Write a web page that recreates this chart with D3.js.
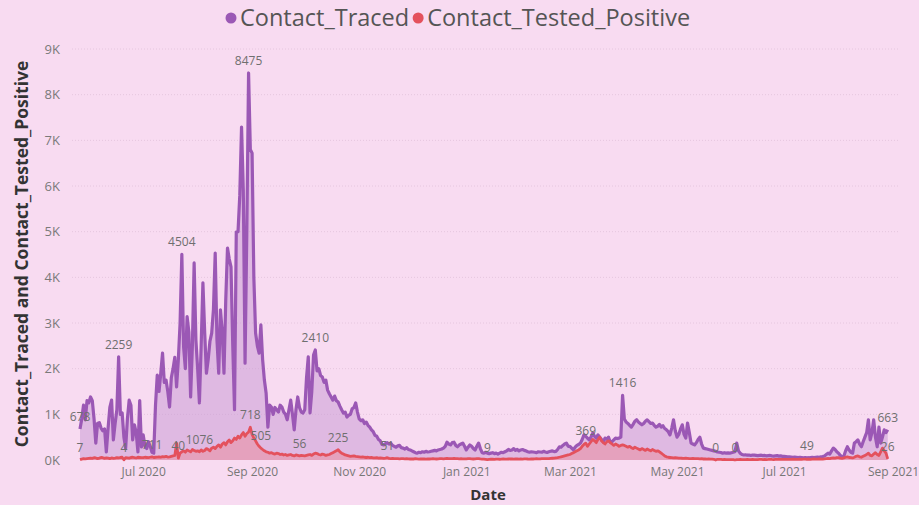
<!DOCTYPE html>
<html>
<head>
<meta charset="utf-8">
<script src="https://cdn.jsdelivr.net/npm/d3@7"></script>
<style>
  body { margin: 0; background: #f8dbf1; }
  svg { display: block; font-family: "Open Sans", "Noto Sans", sans-serif; }
</style>
</head>
<body>
<svg id="chart" width="919" height="505"></svg>
<script>
// daily values, 26 May 2020 .. 29 Aug 2021, one array per month
var firstDay = "2020-05-26";

var tracedMay20 = [678, 900, 1200, 880, 1300, 1250];
var tracedJun20 = [1380, 1300, 900, 370, 800, 820, 700, 640, 680, 175, 700, 1150, 1310, 440, 800, 1100, 2259, 1000, 1030, 500, 260, 900, 1310, 1200, 440, 770, 600, 175, 1300, 285];
var tracedJul20 = [550, 300, 250, 400, 300, 170, 150, 1200, 1860, 1500, 1900, 2340, 1700, 1750, 1500, 1160, 1800, 2000, 2250, 1600, 2200, 3000, 4504, 2475, 2000, 3140, 2800, 1380, 2500, 4315, 2630];
var tracedAug20 = [2000, 1250, 2500, 3880, 2800, 1900, 2200, 2600, 2780, 3300, 4530, 2630, 1900, 3290, 2800, 1900, 3500, 4640, 4400, 4230, 2500, 1100, 4990, 5000, 5800, 7290, 5900, 2120, 5000, 8475, 6800];
var tracedSep20 = [6720, 4000, 2780, 2500, 2340, 2960, 2200, 1750, 1460, 720, 1200, 1160, 1000, 1150, 1100, 1050, 1200, 1160, 1050, 1000, 880, 1100, 1310, 1000, 660, 1100, 1380, 1150, 1050, 1030];
var tracedOct20 = [1100, 1800, 2260, 1030, 1500, 2300, 2410, 1950, 2000, 1850, 1820, 1700, 1750, 1530, 1450, 1380, 1310, 1400, 1300, 1270, 1180, 1100, 1030, 1050, 940, 980, 1000, 1120, 1150, 1250, 1050];
var tracedNov20 = [900, 860, 880, 800, 830, 760, 720, 660, 620, 540, 520, 450, 420, 340, 330, 360, 380, 350, 370, 320, 300, 280, 310, 320, 270, 260, 240, 270, 230, 220];
var tracedDec20 = [200, 180, 160, 150, 170, 160, 180, 170, 190, 175, 180, 190, 200, 210, 200, 220, 230, 240, 260, 300, 390, 350, 330, 380, 390, 320, 290, 330, 350, 370, 300];
var tracedJan21 = [220, 280, 330, 300, 250, 220, 300, 370, 250, 160, 150, 170, 150, 140, 150, 160, 140, 150, 130, 150, 170, 160, 180, 200, 230, 210, 220, 250, 210, 230, 200];
var tracedFeb21 = [220, 230, 210, 200, 180, 170, 180, 175, 170, 160, 180, 175, 170, 190, 175, 165, 180, 190, 200, 185, 190, 230, 290, 280, 320, 350, 370, 300];
var tracedMar21 = [300, 260, 220, 280, 320, 340, 370, 450, 550, 520, 480, 440, 500, 590, 520, 480, 550, 500, 450, 390, 480, 460, 500, 390, 400, 440, 480, 470, 480, 500, 1416];
var tracedApr21 = [900, 830, 800, 760, 720, 780, 850, 880, 830, 800, 770, 800, 850, 880, 840, 800, 810, 760, 720, 740, 780, 720, 750, 690, 660, 620, 550, 700, 880, 640];
var tracedMay21 = [500, 560, 680, 770, 560, 480, 810, 600, 370, 350, 330, 380, 450, 500, 350, 260, 250, 240, 230, 220, 210, 200, 190, 175, 170, 165, 150, 160, 150, 155, 150];
var tracedJun21 = [160, 170, 180, 370, 200, 150, 120, 110, 115, 105, 110, 100, 110, 105, 100, 95, 100, 105, 95, 100, 90, 95, 100, 90, 85, 90, 95, 85, 90, 80];
var tracedJul21 = [80, 75, 70, 70, 65, 60, 65, 60, 55, 60, 55, 50, 55, 49, 50, 55, 60, 55, 60, 65, 60, 70, 75, 90, 120, 150, 130, 200, 260, 230, 180];
var tracedAug21 = [150, 100, 65, 80, 200, 290, 220, 170, 150, 370, 400, 440, 350, 290, 400, 500, 600, 880, 440, 600, 880, 500, 290, 720, 370, 500, 660, 600, 663];

var posMay20 = [7, 20, 30, 25, 30, 35];
var posJun20 = [40, 35, 50, 45, 30, 40, 55, 50, 35, 45, 40, 30, 45, 35, 40, 50, 45, 55, 60, 4, 50, 45, 40, 55, 60, 50, 45, 60, 55, 50];
var posJul20 = [50, 60, 55, 50, 60, 70, 55, 60, 65, 70, 60, 75, 70, 80, 65, 70, 80, 90, 100, 370, 40, 150, 180, 200, 170, 220, 200, 180, 230, 210, 190];
var posAug20 = [200, 180, 220, 190, 210, 250, 230, 200, 260, 280, 250, 300, 330, 280, 350, 380, 330, 400, 440, 380, 420, 480, 450, 520, 480, 550, 600, 520, 580, 610, 718];
var posSep20 = [560, 480, 420, 350, 300, 260, 230, 200, 180, 170, 150, 160, 140, 130, 150, 140, 120, 130, 110, 120, 100, 110, 120, 100, 90, 110, 100, 90, 100, 95];
var posOct20 = [90, 100, 110, 120, 100, 130, 150, 140, 120, 110, 130, 120, 100, 110, 120, 140, 160, 180, 200, 225, 180, 150, 130, 110, 100, 90, 80, 85, 90, 80, 75];
var posNov20 = [70, 65, 70, 60, 55, 60, 50, 55, 48, 45, 50, 40, 45, 40, 35, 40, 51, 35, 30, 35, 30, 28, 30, 25, 30, 28, 25, 30, 25, 22];
var posDec20 = [25, 22, 28, 24, 20, 25, 22, 26, 20, 24, 22, 25, 28, 24, 22, 26, 30, 28, 25, 30, 35, 30, 28, 32, 35, 30, 28, 25, 30, 26, 24];
var posJan21 = [25, 28, 30, 26, 22, 25, 28, 30, 24, 20, 18, 15, 9, 14, 16, 18, 15, 20, 18, 16, 20, 22, 18, 20, 24, 22, 25, 20, 22, 24, 20];
var posFeb21 = [22, 20, 24, 25, 22, 20, 24, 22, 25, 28, 26, 24, 28, 30, 28, 32, 30, 35, 38, 40, 45, 50, 60, 70, 80, 90, 100, 110];
var posMar21 = [120, 140, 160, 180, 200, 220, 250, 300, 340, 369, 300, 350, 400, 450, 420, 380, 450, 500, 420, 380, 350, 400, 420, 380, 350, 320, 350, 330, 300, 320, 330];
var posApr21 = [320, 300, 280, 300, 270, 250, 280, 260, 240, 220, 250, 230, 210, 240, 220, 200, 230, 210, 190, 200, 180, 150, 120, 90, 70, 60, 55, 50, 45, 50];
var posMay21 = [45, 40, 42, 38, 35, 40, 36, 30, 32, 35, 30, 28, 30, 25, 28, 22, 25, 20, 22, 18, 20, 15, 0, 15, 12, 15, 10, 12, 10, 8, 10];
var posJun21 = [10, 8, 0, 8, 10, 12, 10, 8, 10, 12, 8, 10, 12, 10, 8, 10, 12, 14, 10, 12, 10, 12, 15, 12, 10, 14, 12, 15, 12, 14];
var posJul21 = [15, 12, 14, 12, 15, 18, 15, 12, 14, 16, 15, 18, 20, 16, 18, 15, 20, 22, 18, 20, 25, 22, 20, 25, 30, 35, 30, 40, 45, 40, 50];
var posAug21 = [50, 40, 35, 45, 60, 70, 55, 50, 45, 60, 80, 90, 70, 60, 80, 100, 120, 150, 100, 90, 130, 160, 120, 100, 180, 260, 200, 150, 26];

var yTicks = [0, 1000, 2000, 3000, 4000, 5000, 6000, 7000, 8000, 9000];
var xTickDates = ["2020-07-01", "2020-09-01", "2020-11-01", "2021-01-01", "2021-03-01", "2021-05-01", "2021-07-01", "2021-09-01"];

// data labels shown on the chart
var labelDates  = ["2020-05-26", "2020-05-26", "2020-06-17", "2020-06-20", "2020-07-06", "2020-07-21", "2020-07-23", "2020-08-02", "2020-08-30", "2020-08-31", "2020-09-06", "2020-09-28", "2020-10-07", "2020-10-20", "2020-11-17", "2021-01-13", "2021-03-10", "2021-03-31", "2021-05-23", "2021-06-03", "2021-07-14", "2021-08-29", "2021-08-29"];
var labelSeries = ["t", "p", "t", "p", "p", "p", "t", "p", "t", "p", "p", "p", "t", "p", "p", "p", "p", "t", "p", "p", "t", "t", "p"];
var labelTexts  = ["678", "7", "2259", "4", "711", "40", "4504", "1076", "8475", "718", "505", "56", "2410", "225", "51", "9", "369", "1416", "0", "0", "49", "663", "26"];

var traced = [].concat(tracedMay20, tracedJun20, tracedJul20, tracedAug20, tracedSep20, tracedOct20, tracedNov20, tracedDec20,
  tracedJan21, tracedFeb21, tracedMar21, tracedApr21, tracedMay21, tracedJun21, tracedJul21, tracedAug21);
var positive = [].concat(posMay20, posJun20, posJul20, posAug20, posSep20, posOct20, posNov20, posDec20,
  posJan21, posFeb21, posMar21, posApr21, posMay21, posJun21, posJul21, posAug21);

var parse = d3.timeParse("%Y-%m-%d");
var start = parse(firstDay);
var data = traced.map(function(v, i) {
  return { date: d3.timeDay.offset(start, i), t: v, p: positive[i] };
});

var svg = d3.select("#chart");
var purple = "#9b58b5", red = "#e4515d";

var x = d3.scaleTime()
  .domain([start, parse("2021-09-01")])
  .range([80, 893]);
var y = d3.scaleLinear()
  .domain([0, 9000])
  .range([460, 49]);

// gridlines
svg.append("g")
  .selectAll("line")
  .data(yTicks.slice(1))
  .enter()
  .append("line")
  .attr("x1", 72).attr("x2", 900)
  .attr("y1", function(d) { return y(d); })
  .attr("y2", function(d) { return y(d); })
  .attr("stroke", "#e5c6de")
  .attr("stroke-dasharray", "1,2")
  .attr("stroke-width", 1);

// y axis
var yAxis = svg.append("g")
  .attr("transform", "translate(60,0)")
  .call(d3.axisLeft(y).tickValues(yTicks).tickSize(0).tickPadding(0)
    .tickFormat(function(d) { return (d / 1000) + "K"; }));
yAxis.select(".domain").remove();
yAxis.selectAll("text").attr("fill", "#7a7a7a").style("font-size", "13px").style("font-family", "Open Sans");

// x axis
var xAxis = svg.append("g")
  .attr("transform", "translate(0,467)")
  .call(d3.axisBottom(x).tickValues(xTickDates.map(parse)).tickSize(0).tickPadding(0)
    .tickFormat(d3.timeFormat("%b %Y")));
xAxis.select(".domain").remove();
xAxis.selectAll("text").attr("fill", "#777").style("font-size", "12px").style("font-family", "Open Sans");

// areas and lines
var areaT = d3.area().x(function(d) { return x(d.date); }).y0(y(0)).y1(function(d) { return y(d.t); });
var lineT = d3.line().x(function(d) { return x(d.date); }).y(function(d) { return y(d.t); });
var areaP = d3.area().x(function(d) { return x(d.date); }).y0(y(0)).y1(function(d) { return y(d.p); });
var lineP = d3.line().x(function(d) { return x(d.date); }).y(function(d) { return y(d.p); });

svg.append("path").datum(data).attr("d", areaT).attr("fill", "#c697d4").attr("opacity", 0.5);
svg.append("path").datum(data).attr("d", lineT).attr("fill", "none").attr("stroke", purple)
  .attr("stroke-width", 3.2).attr("stroke-linejoin", "round");
svg.append("path").datum(data).attr("d", areaP).attr("fill", "#ec8a98").attr("opacity", 0.5);
svg.append("path").datum(data).attr("d", lineP).attr("fill", "none").attr("stroke", red)
  .attr("stroke-width", 2.8).attr("stroke-linejoin", "round");

// data labels
svg.append("g")
  .selectAll("text")
  .data(labelTexts)
  .enter()
  .append("text")
  .attr("x", function(d, i) { return x(parse(labelDates[i])); })
  .attr("y", function(d, i) {
    var idx = d3.timeDay.count(start, parse(labelDates[i]));
    return y(data[idx][labelSeries[i]]) - 8;
  })
  .attr("text-anchor", "middle")
  .attr("fill", "#6f6f6f")
  .style("font-size", "12px")
  .text(function(d) { return d; });

// legend
var legendNames = ["Contact_Traced", "Contact_Tested_Positive"];
var legendColors = [purple, red];
var lg = svg.append("g");
var lx = 231;
legendNames.forEach(function(name, i) {
  lg.append("circle").attr("cx", lx).attr("cy", 18).attr("r", 5.5).attr("fill", legendColors[i]);
  var t = lg.append("text").attr("x", lx + 9).attr("y", 26)
    .attr("fill", "#555").style("font-size", "23.5px").text(name);
  lx += 9 + t.node().getComputedTextLength() + 9;
});

// axis titles
svg.append("text")
  .attr("transform", "translate(28,254) rotate(-90)")
  .attr("text-anchor", "middle")
  .attr("fill", "#333")
  .style("font-size", "17.5px")
  .style("font-weight", "bold")
  .text("Contact_Traced and Contact_Tested_Positive");

svg.append("text")
  .attr("x", 488).attr("y", 500)
  .attr("text-anchor", "middle")
  .attr("fill", "#333")
  .style("font-size", "15px")
  .style("font-weight", "bold")
  .text("Date");
</script>
</body>
</html>
